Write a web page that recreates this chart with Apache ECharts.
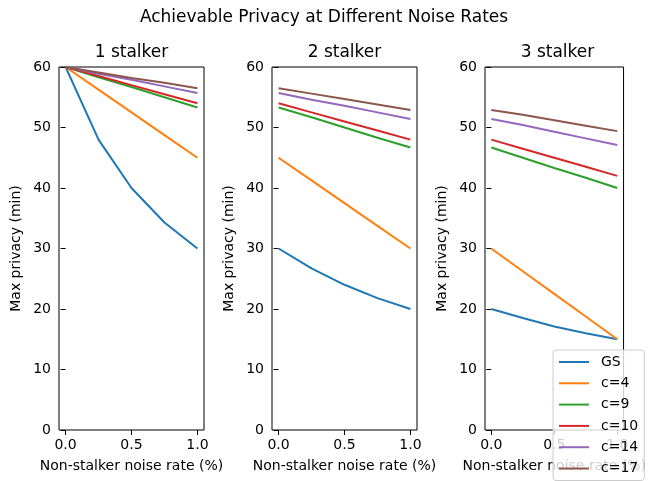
<!DOCTYPE html>
<html><head><meta charset="utf-8">
<script src="https://cdn.jsdelivr.net/npm/echarts@6/dist/echarts.min.js"></script>
<style>html,body{margin:0;padding:0;background:#fff}#c{width:649px;height:481px}</style>
</head><body><div id="c"></div>
<script>
const noiseRates = [0, 0.25, 0.5, 0.75, 1.0];
const seriesNames = ['GS', 'c=4', 'c=9', 'c=10', 'c=14', 'c=17'];
const panelTitles = ['1 stalker', '2 stalker', '3 stalker'];
const xTicks = [0, 0.5, 1.0];
const yTicks = [0, 10, 20, 30, 40, 50, 60];
// values per panel, per series
const s1_GS  = [60, 48.0, 40.0, 34.3, 30.0];
const s1_c4  = [60, 56.25, 52.5, 48.75, 45.0];
const s1_c9  = [60, 58.3, 56.7, 55.0, 53.3];
const s1_c10 = [60, 58.5, 57.0, 55.5, 54.0];
const s1_c14 = [60, 58.9, 57.9, 56.8, 55.7];
const s1_c17 = [60, 59.1, 58.2, 57.4, 56.5];
const s2_GS  = [30.0, 26.7, 24.0, 21.8, 20.0];
const s2_c4  = [45.0, 41.25, 37.5, 33.75, 30.0];
const s2_c9  = [53.3, 51.7, 50.0, 48.3, 46.7];
const s2_c10 = [54.0, 52.5, 51.0, 49.5, 48.0];
const s2_c14 = [55.7, 54.6, 53.6, 52.5, 51.4];
const s2_c17 = [56.5, 55.6, 54.7, 53.8, 52.9];
const s3_GS  = [20.0, 18.5, 17.1, 16.0, 15.0];
const s3_c4  = [30.0, 26.25, 22.5, 18.75, 15.0];
const s3_c9  = [46.7, 45.0, 43.3, 41.7, 40.0];
const s3_c10 = [48.0, 46.5, 45.0, 43.5, 42.0];
const s3_c14 = [51.4, 50.4, 49.3, 48.2, 47.1];
const s3_c17 = [52.9, 52.1, 51.2, 50.3, 49.4];
const panels = [
  [s1_GS, s1_c4, s1_c9, s1_c10, s1_c14, s1_c17],
  [s2_GS, s2_c4, s2_c9, s2_c10, s2_c14, s2_c17],
  [s3_GS, s3_c4, s3_c9, s3_c10, s3_c14, s3_c17]
];
const colors = ['#1f77b4', '#ff7f0e', '#2ca02c', '#d62728', '#9467bd', '#8c564b'];
const FONT = 'DejaVu Sans';
const FS = 14;
const gridLefts = [59, 272, 485];
const gridW = 145, gridTop = 67, gridH = 363;

const grids = [], xAxes = [], yAxes = [], series = [], graphics = [];
gridLefts.forEach((l, i) => {
  grids.push({left: l, top: gridTop, width: gridW, height: gridH, show: true,
    borderColor: '#000', borderWidth: 1, backgroundColor: 'transparent', containLabel: false});
  xAxes.push({type: 'value', gridIndex: i, min: -0.05, max: 1.05,
    splitLine: {show: false},
    axisLine: {show: false},
    axisTick: {show: true, length: 5, inside: false, customValues: xTicks, lineStyle: {color: '#000', width: 1}},
    axisLabel: {show: true, customValues: xTicks, margin: 8, color: '#000', fontFamily: FONT, fontSize: FS,
      formatter: v => v.toFixed(1)},
    name: 'Non-stalker noise rate (%)', nameLocation: 'middle', nameGap: 29,
    nameTextStyle: {color: '#000', fontFamily: FONT, fontSize: FS}
  });
  yAxes.push({type: 'value', gridIndex: i, min: 0, max: 60, interval: 10,
    splitLine: {show: false},
    axisLine: {show: false},
    axisTick: {show: true, length: 5, inside: false, lineStyle: {color: '#000', width: 1}},
    axisLabel: {show: true, margin: 8, color: '#000', fontFamily: FONT, fontSize: FS},
    name: 'Max privacy (min)', nameLocation: 'middle', nameGap: 36,
    nameTextStyle: {color: '#000', fontFamily: FONT, fontSize: FS}
  });
  panels[i].forEach((vals, k) => {
    series.push({type: 'line', name: seriesNames[k], xAxisIndex: i, yAxisIndex: i,
      data: noiseRates.map((x, j) => [x, vals[j]]),
      symbol: 'none', showSymbol: false, smooth: false,
      lineStyle: {color: colors[k], width: 2}, itemStyle: {color: colors[k]},
      animation: false, z: 2});
  });
  graphics.push({type: 'text', x: l + gridW / 2, y: 53, style: {text: panelTitles[i], fill: '#000',
    font: '17px "' + FONT + '"', textAlign: 'center', textVerticalAlign: 'middle'}});
});
graphics.push({type: 'text', x: 324, y: 18, style: {text: 'Achievable Privacy at Different Noise Rates',
  fill: '#000', font: '17px "' + FONT + '"', textAlign: 'center', textVerticalAlign: 'middle'}});

const chart = echarts.init(document.getElementById('c'), null, {renderer: 'canvas'});
chart.setOption({
  animation: false,
  color: colors,
  grid: grids, xAxis: xAxes, yAxis: yAxes, series: series, graphic: graphics,
  legend: {data: seriesNames, orient: 'vertical', left: 553, top: 350, right: null,
    backgroundColor: 'rgba(255,255,255,0.8)', borderColor: '#ccc', borderWidth: 1, borderRadius: 3,
    padding: [5, 6, 5, 5], itemWidth: 30, itemHeight: 14, itemGap: 7.3,
    itemStyle: {opacity: 0}, lineStyle: {width: 2},
    textStyle: {color: '#000', fontFamily: FONT, fontSize: FS, padding: [0, 0, 0, 7]},
    selectedMode: false, z: 10}
});
</script></body></html>
